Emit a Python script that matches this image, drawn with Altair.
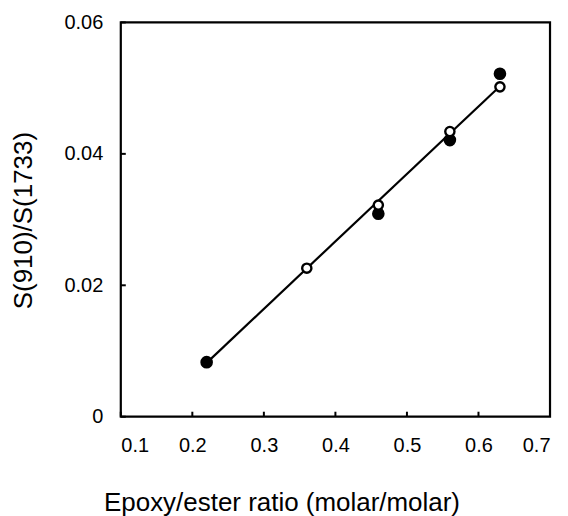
import altair as alt
import pandas as pd

filled_x = [0.22, 0.46, 0.56, 0.63]
filled_y = [0.0083, 0.0309, 0.0421, 0.0522]
open_x = [0.36, 0.46, 0.56, 0.63]
open_y = [0.0226, 0.0322, 0.0434, 0.0502]
line_x = [0.22, 0.63]
line_y = [0.0082, 0.0503]
x_ticks = [0.1, 0.2, 0.3, 0.4, 0.5, 0.6, 0.7]
y_ticks = [0.0, 0.02, 0.04, 0.06]

FONT = "Liberation Sans"
W, H = 430, 395

df_f = pd.DataFrame({"x": filled_x, "y": filled_y})
df_o = pd.DataFrame({"x": open_x, "y": open_y})
df_l = pd.DataFrame({"x": line_x, "y": line_y})
df_xt = pd.DataFrame({"x": x_ticks})
df_yt = pd.DataFrame({"y": y_ticks})

xs = alt.Scale(domain=[0.1, 0.7], nice=False, zero=False)
ys = alt.Scale(domain=[0, 0.06], nice=False, zero=False)

xaxis = alt.Axis(
    values=x_ticks, format=".1f", title="Epoxy/ester ratio (molar/molar)",
    ticks=False, tickSize=0, domain=False, grid=False,
    labelFont=FONT, labelFontSize=20, labelColor="black", labelPadding=19,
    titleFont=FONT, titleFontSize=26, titleFontWeight="normal", titleColor="black",
    titleX=161, titleY=94, titleAlign="center", titleBaseline="alphabetic",
)
yaxis = alt.Axis(
    values=y_ticks, labelExpr="datum.value == 0 ? '0' : format(datum.value, '.2f')",
    title="S(910)/S(1733)",
    ticks=False, tickSize=0, domain=False, grid=False,
    labelFont=FONT, labelFontSize=20, labelColor="black", labelPadding=18,
    titleFont=FONT, titleFontSize=26, titleFontWeight="normal", titleColor="black",
    titleX=-97, titleY=198, titleAngle=270, titleAlign="center", titleBaseline="middle",
)

line = alt.Chart(df_l).mark_line(color="black", strokeWidth=2.2).encode(
    x=alt.X("x:Q", scale=xs, axis=xaxis),
    y=alt.Y("y:Q", scale=ys, axis=yaxis),
)
filled = alt.Chart(df_f).mark_point(
    shape="circle", filled=True, color="black", size=160, opacity=1
).encode(x=alt.X("x:Q", scale=xs), y=alt.Y("y:Q", scale=ys))
opened = alt.Chart(df_o).mark_point(
    shape="circle", filled=False, stroke="black", fill="white", fillOpacity=1,
    strokeWidth=2.4, size=85, opacity=1
).encode(x=alt.X("x:Q", scale=xs), y=alt.Y("y:Q", scale=ys))

xt = alt.Chart(df_xt).mark_rule(color="black", strokeWidth=2).encode(
    x=alt.X("x:Q", scale=xs), y=alt.value(H), y2=alt.value(H - 5)
)
yt = alt.Chart(df_yt).mark_rule(color="black", strokeWidth=2).encode(
    y=alt.Y("y:Q", scale=ys), x=alt.value(0), x2=alt.value(5)
)

chart = alt.layer(xt, yt, line, filled, opened).properties(
    width=W, height=H,
    autosize=alt.AutoSizeParams(type="none"),
    padding={"left": 113, "top": 14, "right": 10, "bottom": 99},
    background="white",
).configure_view(stroke="black", strokeWidth=2.2)

chart.save("out.html", embed_options={"renderer": "svg", "actions": False})
